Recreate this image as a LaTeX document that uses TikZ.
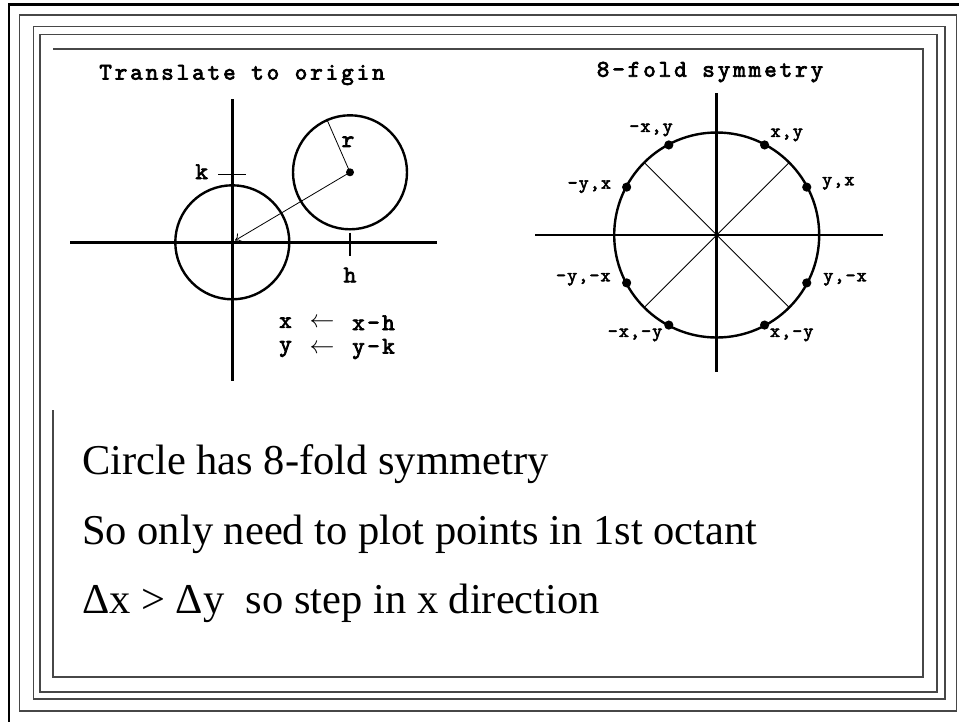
\documentclass[tikz,border=0pt]{standalone}
\usepackage{fontspec}
\setmainfont{Liberation Serif}
\newfontfamily\titlefont{lmmono10-regular.otf}[FakeBold=3,LetterSpace=12]
\newfontfamily\labfont{lmmono10-regular.otf}[FakeBold=3,LetterSpace=6]
\newfontfamily\eqfont{lmmono10-regular.otf}[FakeBold=3,LetterSpace=10]
\usetikzlibrary{arrows.meta}
\begin{document}
\begin{tikzpicture}[x=1pt,y=-1pt,
  frame/.style={line width=1.5pt, draw=black!72},
  axis/.style={line width=2.7pt},
  circ/.style={line width=2.4pt},
  thinline/.style={line width=0.8pt},
  tickline/.style={line width=1.3pt},
  ttl/.style={font=\titlefont\fontsize{24}{26}\selectfont, inner sep=0pt},
  lab/.style={font=\labfont\fontsize{19}{21}\selectfont, inner sep=0pt},
  eq/.style={font=\eqfont\fontsize{24}{26}\selectfont, inner sep=0pt},
  body/.style={font=\fontsize{42.5}{50}\selectfont, anchor=base west, inner sep=0pt}]
\useasboundingbox (0,0) rectangle (959,721);
\fill[white] (0,0) rectangle (959,721);
% frames
\draw[line width=2.8pt] (9,740) -- (9,4.5) -- (980,4.5);
\draw[frame] (19.5,15) rectangle (956.5,711);
\draw[frame] (33.5,26.5) rectangle (945,699);
\draw[frame] (40,34.5) rectangle (937,692);
\draw[frame] (53,410) -- (53,677) -- (923,677) -- (923,49) -- (53,49);
% left diagram
\node[ttl] (ttlA) at (242,75) {Translate to origin};
\coordinate (O1) at (232.3,242.3);
\coordinate (C1) at (350,172.3);
\draw[axis] (232.3,99) -- (232.3,381);
\draw[axis] (70,242.3) -- (437,242.3);
\draw[circ] (O1) circle[radius=57];
\draw[circ] (C1) circle[radius=57];
\fill (C1) circle[radius=4];
\coordinate (R1) at (326.7,119);
\draw[thinline] (C1) -- (R1);
\draw[thinline,-{To[length=6pt,width=10pt]}] (C1) -- (235,240.5);
\draw[tickline] (218,174.3) -- (245.7,174.3);
\draw[tickline] (350,232.7) -- (350,256);
\node[eq] (lk) at (201.7,171.7) {k};
\node[eq] (lh) at (350,275) {h};
\node[eq] (lr) at (348,141.7) {r};
\node[eq, anchor=west] (ex1) at (279,322.7) {x};
\node[inner sep=0pt, font=\fontsize{24}{26}\selectfont] (ea1) at (322,322.7) {$\leftarrow$};
\node[eq, anchor=west] (ex2) at (352,322.7) {x-h};
\node[eq, anchor=west] (ey1) at (279,349) {y};
\node[inner sep=0pt, font=\fontsize{24}{26}\selectfont] (ea2) at (322,349) {$\leftarrow$};
\node[eq, anchor=west] (ey2) at (352,349) {y-k};
% right diagram
\node[ttl] (ttlB) at (710,72) {8-fold symmetry};
\coordinate (O2) at (716.7,235);
\draw[axis] (716.7,93.3) -- (716.7,371.7);
\draw[axis] (535,235) -- (883.3,235);
\draw[circ] (O2) circle[radius=102.5];
\foreach \a in {45,135,225,315} \draw[thinline] (O2) -- ++(\a:102.5);
\foreach \a in {28,62,118,152,208,242,298,332} \fill (O2) ++(\a:102) circle[radius=4.6];
\node[lab] (p1) at (786.7,135) {x,y};
\node[lab] (p2) at (838.3,183.3) {y,x};
\node[lab] (p3) at (651,130) {-x,y};
\node[lab] (p4) at (589.3,186.7) {-y,x};
\node[lab] (p5) at (583.3,279.3) {-y,-x};
\node[lab] (p6) at (845,279.3) {y,-x};
\node[lab] (p7) at (635,335) {-x,-y};
\node[lab] (p8) at (791.7,335) {x,-y};
% body text
\node[body] (t1) at (82,474) {Circle has 8-fold symmetry};
\node[body] (t2) at (82,544) {So only need to plot points in 1st octant};
\node[body] (t3) at (82,613) {Δx > Δy\ \ so step in x direction};
\end{tikzpicture}
\end{document}
